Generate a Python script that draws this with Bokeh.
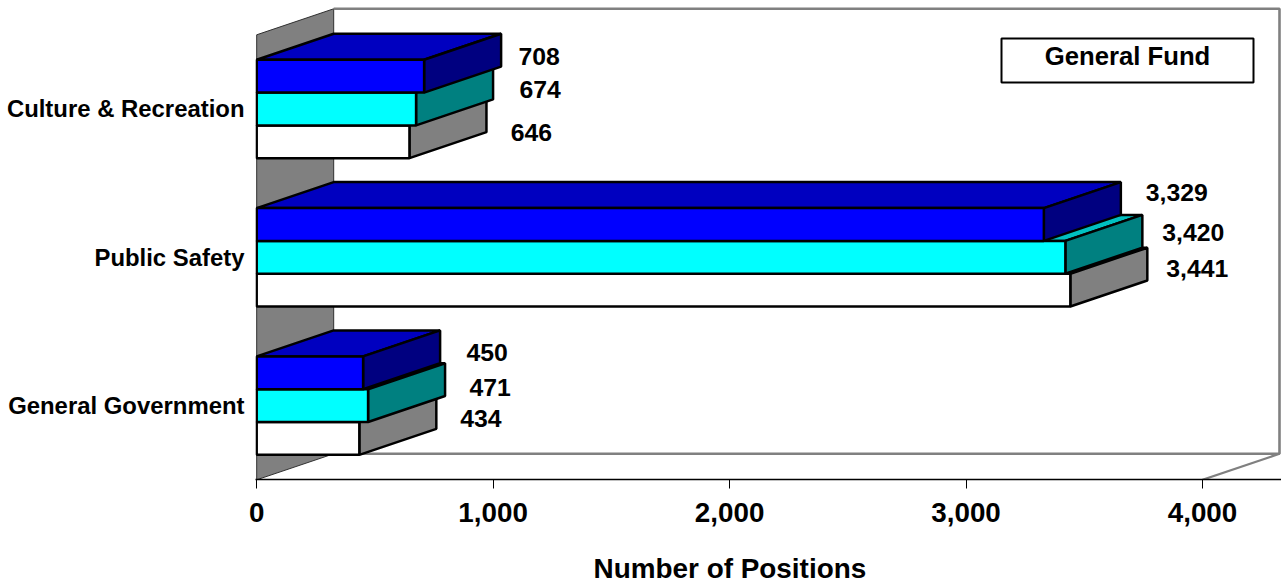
from bokeh.plotting import figure
from bokeh.models import Range1d, FixedTicker, ColumnDataSource, Title
from bokeh.core.properties import value
from bokeh.embed import file_html
from bokeh.resources import INLINE

# ---- data
categories = ["General Government", "Public Safety", "Culture & Recreation"]
series_white = [434, 3441, 646]
series_cyan = [471, 3420, 674]
series_blue = [450, 3329, 708]
x_ticks = [0, 1000, 2000, 3000, 4000]
x_tick_labels = ["0", "1,000", "2,000", "3,000", "4,000"]
x_title = "Number of Positions"
legend_text = "General Fund"

# ---- page geometry
FONT = "Liberation Sans"
W, H = 1281, 582
K = 0.23645            # px per value unit
ROW = 148.33           # px per category row
DX = 77 / K            # oblique depth, value units
DY = 26 / ROW          # oblique depth, row units
BAR = 32.8 / ROW       # bar thickness
X0_PX, Y0_PX = 256.2, 479.3


def dx(px):
    return (px - X0_PX) / K


def dy(py):
    return (Y0_PX - py) / ROW


p = figure(width=W, height=H, output_backend="svg", toolbar_location=None,
           x_range=Range1d(dx(255), dx(1281)), y_range=Range1d(dy(479), dy(6)),
           frame_width=1026, frame_height=473,
           min_border_left=255, min_border_right=0, min_border_top=6, min_border_bottom=103,
           background_fill_color="white", border_fill_color="white", outline_line_color=None)
p.grid.visible = False

# ---- walls
GREY = "#808080"
p.patch([0, DX, DX, 0], [0, DY, 3 + DY, 3], fill_color=GREY, line_color="#303030", line_width=1)
p.line([DX, 4000 + DX, 4000 + DX, DX], [3 + DY, 3 + DY, DY, DY], line_color=GREY, line_width=2.6)
p.line([4000, 4000 + DX], [0, DY], line_color=GREY, line_width=2.2)

# ---- bars, bottom of each group upwards
styles = [
    (series_white, "#FFFFFF", "#C0C0C0", "#808080", [44.5, 50, 45]),
    (series_cyan, "#00FFFF", "#00C0C0", "#008080", [45, 51, 47]),
    (series_blue, "#0000FF", "#0000C0", "#000080", [47, 56, 38]),
]
label_y_px = {0: [418, 268, 132], 1: [387, 232, 89], 2: [352, 192, 56]}

for s, (vals, front, top, side, off) in enumerate(styles):
    for c, v in enumerate(vals):
        b = c + 0.5 + (s - 1.5) * BAR
        t = b + BAR
        p.patch([0, DX, v + DX, v], [t, t + DY, t + DY, t], fill_color=top,
                line_color="black", line_width=2.5, line_join="bevel")
        p.patch([v, v + DX, v + DX, v], [b, b + DY, t + DY, t], fill_color=side,
                line_color="black", line_width=2.5, line_join="bevel")
        p.quad(left=[0], right=[v], bottom=[b], top=[t], fill_color=front,
               line_color="black", line_width=2.5)

for s, (vals, front, top, side, off) in enumerate(styles):
    src = ColumnDataSource(dict(
        x=[v + DX + o / K for v, o in zip(vals, off)],
        y=[dy(q) for q in label_y_px[s]],
        t=[f"{v:,}" for v in vals],
    ))
    p.text(x="x", y="y", text="t", source=src, text_align="center", text_baseline="middle",
           text_font=value(FONT), text_font_style="bold", text_font_size="24.8px", text_color="black")

# ---- "General Fund" box
p.quad(left=[dx(1001)], right=[dx(1253)], bottom=[dy(82)], top=[dy(38)], fill_color="white",
       line_color="black", line_width=2)
p.text(x=[dx(1127)], y=[dy(55.5)], text=[legend_text], text_align="center", text_baseline="middle",
       text_font=value(FONT), text_font_style="bold", text_font_size="25.7px", text_color="black")

# ---- axes
ax = p.xaxis[0]
ax.ticker = FixedTicker(ticks=x_ticks)
ax.major_label_overrides = dict(zip(x_ticks, x_tick_labels))
ax.minor_tick_line_color = None
ax.major_tick_in = 0
ax.major_tick_out = 9
ax.major_tick_line_color = "black"
ax.axis_line_color = "black"
ax.axis_line_width = 1.5
ax.major_label_standoff = 14
ax.major_label_text_font = FONT
ax.major_label_text_font_style = "bold"
ax.major_label_text_font_size = "27.8px"
ax.major_label_text_color = "black"

p.add_layout(Title(text=x_title, align="left", offset=338, standoff=53,
                   text_font=FONT, text_font_style="bold", text_font_size="27.9px",
                   text_color="black"), "below")

ay = p.yaxis[0]
ay.ticker = FixedTicker(ticks=[0.5, 1.5, 2.5])
ay.major_label_overrides = {0.5: categories[0], 1.5: categories[1], 2.5: categories[2]}
ay.axis_line_color = None
ay.major_tick_line_color = None
ay.minor_tick_line_color = None
ay.major_tick_in = 0
ay.major_tick_out = 0
ay.major_label_standoff = 11
ay.major_label_text_font = FONT
ay.major_label_text_font_style = "bold"
ay.major_label_text_font_size = "23.9px"
ay.major_label_text_color = "black"

open("out.html", "w").write(file_html(p, INLINE))
